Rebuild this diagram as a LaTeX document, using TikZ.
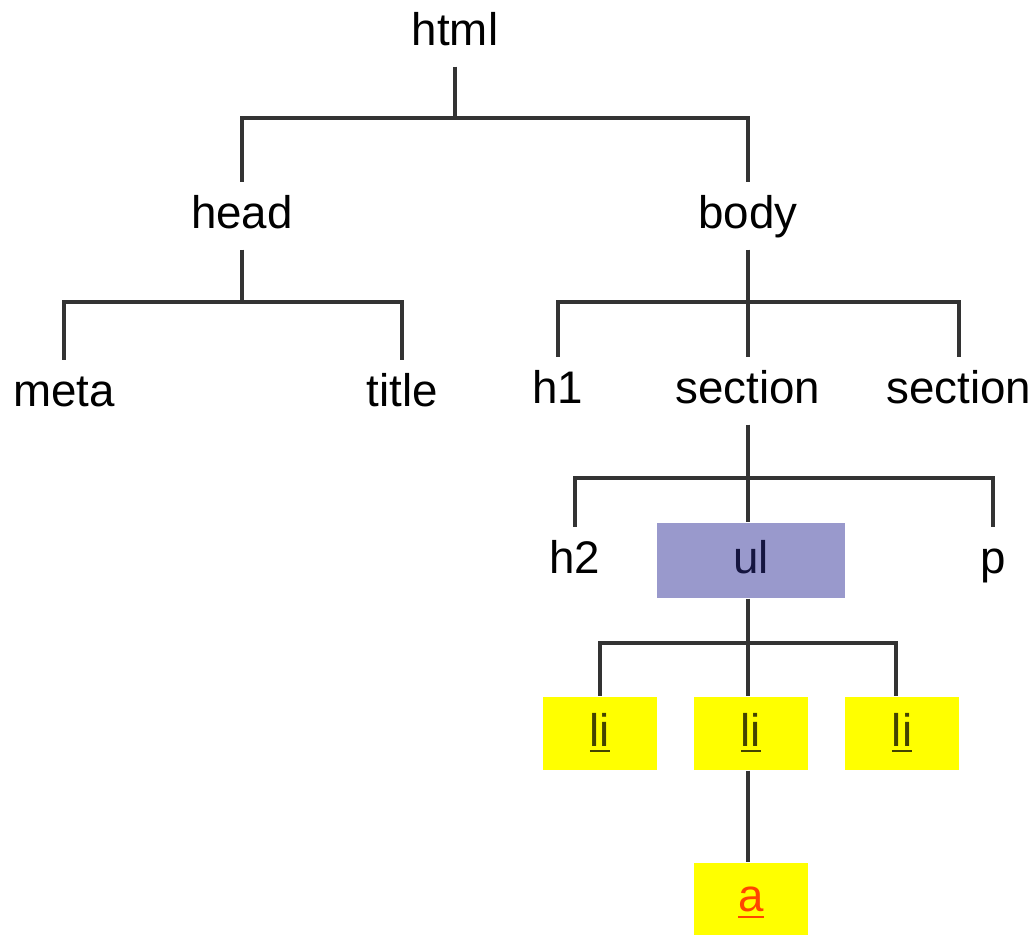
\documentclass[tikz,border=0pt]{standalone}
\usepackage{fontspec}
\setmainfont{Liberation Sans}
\usepackage{xcolor}
\definecolor{ulblue}{HTML}{9999CC}
\definecolor{liyellow}{HTML}{FFFF00}
\definecolor{litext}{HTML}{444400}
\definecolor{atext}{HTML}{FF4500}
\definecolor{ultext}{HTML}{15153F}
\definecolor{edgegray}{HTML}{333333}

\begin{document}
\begin{tikzpicture}[
        tag/.style={font=\fontsize{13}{15.6}\selectfont, text height=0.72em, text depth=0pt,
            minimum height=0.66cm, inner sep=0pt},
        ulbox/.style={tag, fill=ulblue, text=ultext, minimum width=1.88cm, minimum height=0.75cm},
        libox/.style={tag, fill=liyellow, text=litext, minimum width=1.14cm, minimum height=0.73cm},
        link/.style={draw=edgegray, line width=0.9pt}
    ]
        \useasboundingbox (0,0) rectangle (10.36,-9.35);

        % top levels
        \node[tag] (html) at (4.55, -0.33) {html};
        \node[tag] (head) at (2.42, -2.16) {head};
        \node[tag] (body) at (7.48, -2.16) {body};

        \node[tag] (meta) at (0.64, -3.94) {meta};
        \node[tag] (title) at (4.02, -3.94) {title};
        \node[tag] (h1) at (5.58, -3.91) {h1};
        \node[tag] (secA) at (7.48, -3.91) {section};
        \node[tag] (secB) at (9.59, -3.91) {section};

        \node[tag] (h2) at (5.75, -5.61) {h2};
        \node[ulbox] (ul) at (7.51, -5.605) {ul};
        \node[tag] (p) at (9.93, -5.61) {p};

        \node[libox] (liA) at (6.00, -7.335) {\underline{li}};
        \node[libox] (liB) at (7.51, -7.335) {\underline{li}};
        \node[libox] (liC) at (9.02, -7.335) {\underline{li}};

        \node[libox, text=atext, minimum height=0.72cm] (a) at (7.51, -8.99) {\underline{a}};

        % junctions
        \coordinate (jhtml) at (4.55, -1.18);
        \coordinate (jhead) at (2.42, -3.02);
        \coordinate (jbody) at (7.48, -3.02);
        \coordinate (jsec) at (7.48, -4.78);
        \coordinate (jul) at (7.48, -6.43);

        \draw[link] (html) -- (jhtml) -| (head);
        \draw[link] (jhtml) -| (body);

        \draw[link] (head) -- (jhead) -| (meta);
        \draw[link] (jhead) -| (title);

        \draw[link] (body) -- (jbody) -| (h1);
        \draw[link] (jbody) -- (secA);
        \draw[link] (jbody) -| (secB);

        \draw[link] (secA) -- (jsec) -| (h2);
        \draw[link] (jsec) -- (jsec |- ul.north);
        \draw[link] (jsec) -| (p);

        \draw[link] (jul |- ul.south) -- (jul) -| (liA);
        \draw[link] (jul) -- (jul |- liB.north);
        \draw[link] (jul) -| ([xshift=-0.06cm]liC.north);

        \draw[link] (jul |- liB.south) -- (jul |- a.north);

    \end{tikzpicture}
\end{document}
